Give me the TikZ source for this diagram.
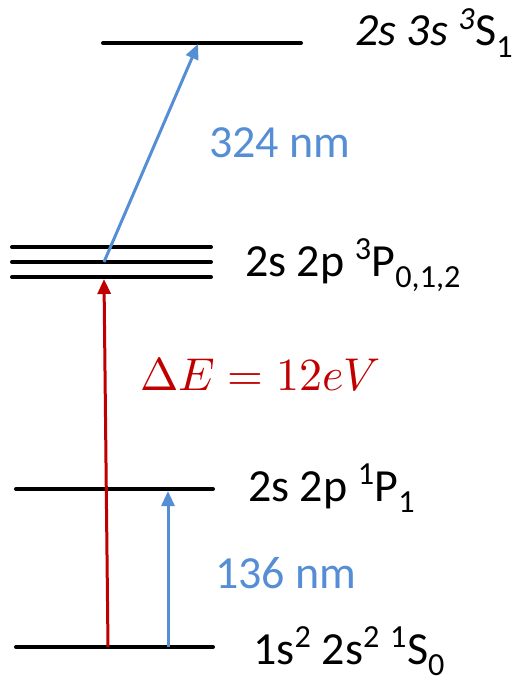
\documentclass[tikz,border=0pt]{standalone}
\usepackage{fontspec}
\usepackage{unicode-math}
\setmainfont{Carlito}
\setmathfont{Latin Modern Math}
\usetikzlibrary{arrows.meta}
\definecolor{lineblue}{RGB}{85,142,213}
\definecolor{linered}{RGB}{192,0,0}
\begin{document}
\begin{tikzpicture}[x=1pt,y=-1pt,
  level/.style={line width=4pt,line cap=round,black},
  bluearrow/.style={line width=3pt,lineblue,-{Triangle[length=15pt,width=13pt]}},
  redarrow/.style={line width=3pt,linered,-{Triangle[length=15pt,width=13pt]}},
  lbl/.style={anchor=base west,inner sep=0pt,font=\fontsize{46}{50}\selectfont}]
\useasboundingbox (0,0) rectangle (519,676);
% levels
\coordinate (t1) at (103,43);  \coordinate (t2) at (301,43);
\coordinate (pa1) at (12,247); \coordinate (pa2) at (211,247);
\coordinate (pb1) at (12,262); \coordinate (pb2) at (211,262);
\coordinate (pc1) at (12,277); \coordinate (pc2) at (211,277);
\coordinate (p11) at (16,489); \coordinate (p12) at (213,489);
\coordinate (g1) at (16,647);  \coordinate (g2) at (213,647);
\draw[level] (t1) -- (t2);
\draw[level] (pa1) -- (pa2);
\draw[level] (pb1) -- (pb2);
\draw[level] (pc1) -- (pc2);
\draw[level] (p11) -- (p12);
\draw[level] (g1) -- (g2);
% arrow endpoints
\coordinate (rs) at (108,647); \coordinate (re) at (104,279);
\coordinate (bs) at (168,647); \coordinate (be) at (168,491);
\coordinate (us) at (104,262); \coordinate (ue) at (198,44);
\draw[redarrow] (rs) -- (re);
\draw[bluearrow] (bs) -- (be);
\draw[bluearrow] (us) -- (ue);
% labels
\node[lbl] (ltop) at (355,46) {{\itshape 2s 3s \textsuperscript{3}}S\textsubscript{1}};
\node[lbl,lineblue] (l324) at (209,158) {324 nm};
\node[lbl] (l3p) at (245,276) {2s 2p \textsuperscript{3}P\textsubscript{0,1,2}};
\node[lbl,linered] (lde) at (140,390) {$\Delta E = 12eV$};
\node[lbl] (l1p) at (248,501) {2s 2p \textsuperscript{1}P\textsubscript{1}};
\node[lbl,lineblue] (l136) at (215,588) {136 nm};
\node[lbl] (lg) at (253,664) {1s\textsuperscript{2} 2s\textsuperscript{2} \textsuperscript{1}S\textsubscript{0}};
\end{tikzpicture}
\end{document}
